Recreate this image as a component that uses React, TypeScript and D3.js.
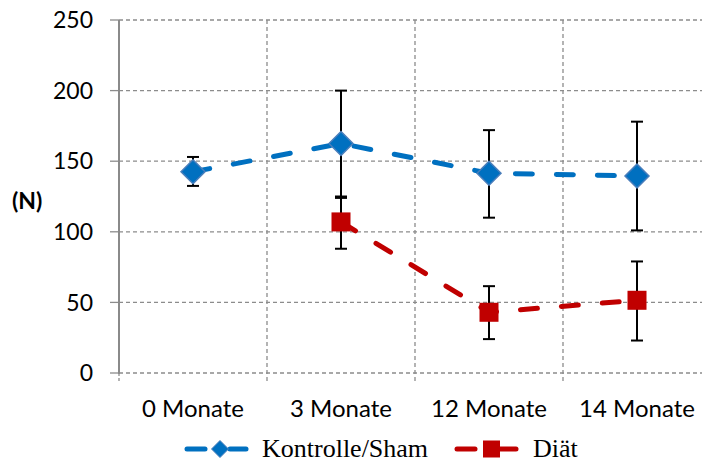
import React from "react";
import * as d3 from "d3";

const categories = ["0 Monate", "3 Monate", "12 Monate", "14 Monate"];
const kontrolleMean = [142.5, 162.5, 141.5, 139.5];
const kontrolleHigh = [153, 200, 172, 178];
const kontrolleLow = [132.5, 125, 110, 101];
const diaetCats = ["3 Monate", "12 Monate", "14 Monate"];
const diaetMean = [107, 43, 51.5];
const diaetHigh = [124, 61.5, 79];
const diaetLow = [88, 24, 23];
const yTicks = [0, 50, 100, 150, 200, 250];

const W = 702;
const H = 463;
const BLUE = "#0070C0";
const RED = "#C00000";
const GRID = "#8c8c8c";

export default function App() {
  const x = d3.scaleBand<string>().domain(categories).range([119, 711]).padding(0);
  const cx = (c: string) => (x(c) as number) + x.bandwidth() / 2;
  const y = d3.scaleLinear().domain([0, 250]).range([373, 20]);

  const line = d3
    .line<[number, number]>()
    .x((d) => d[0])
    .y((d) => d[1]);

  const kPts: [number, number][] = categories.map((c, i) => [cx(c), y(kontrolleMean[i])]);
  const dPts: [number, number][] = diaetCats.map((c, i) => [cx(c), y(diaetMean[i])]);

  const diamond = (px: number, py: number, r: number) =>
    `M${px},${py - r}L${px + r},${py}L${px},${py + r}L${px - r},${py}Z`;

  const boundaries = categories.map((c) => (x(c) as number) + x.bandwidth());
  const labelFont = "Lato, 'Open Sans', sans-serif";
  const serif = "'Liberation Serif', 'Times New Roman', serif";

  return (
    <svg
      width={W}
      height={H}
      style={{ position: "absolute", left: 0, top: 0, background: "#fff" }}
    >
      <rect x={0} y={0} width={W} height={H} fill="#fff" />
      {/* horizontal grid */}
      {yTicks.map((t) => (
        <g key={"h" + t}>
          <line x1={119} x2={711} y1={y(t)} y2={y(t)} stroke={GRID} strokeWidth={1.3} strokeDasharray="4,3" />
          <line x1={110} x2={119} y1={y(t)} y2={y(t)} stroke={GRID} strokeWidth={1.3} />
          <text
            x={93}
            y={y(t)}
            dy="0.36em"
            textAnchor="end"
            fontFamily={labelFont}
            fontSize={23}
            fill="#000"
          >
            {t}
          </text>
        </g>
      ))}
      {/* vertical grid */}
      {boundaries.map((b, i) => (
        <line key={"v" + i} x1={b} x2={b} y1={20} y2={381} stroke={GRID} strokeWidth={1.3} strokeDasharray="4,3" />
      ))}
      <line x1={119} x2={119} y1={373} y2={381} stroke={GRID} strokeWidth={1.3} strokeDasharray="3,2" />
      {/* y axis */}
      <line x1={119} x2={119} y1={20} y2={374} stroke="#8a8a8a" strokeWidth={2} />
      {/* y title */}
      <text x={12} y={209} fontFamily={labelFont} fontWeight="bold" fontSize={23} fill="#000">
        (N)
      </text>
      {/* x labels */}
      {categories.map((c) => (
        <text
          key={"xl" + c}
          x={cx(c)}
          y={417}
          textAnchor="middle"
          fontFamily={labelFont}
          fontSize={24}
          fill="#000"
        >
          {c}
        </text>
      ))}
      {/* lines */}
      <path
        d={line(dPts) || ""}
        fill="none"
        stroke={RED}
        strokeWidth={5}
        strokeDasharray="17,24"
        strokeLinecap="round"
      />
      <path
        d={line(kPts) || ""}
        fill="none"
        stroke={BLUE}
        strokeWidth={5}
        strokeDasharray="17,24"
        strokeLinecap="round"
      />
      {/* error bars */}
      {categories.map((c, i) => (
        <g key={"ek" + c} stroke="#000" strokeWidth={2}>
          <line x1={cx(c)} x2={cx(c)} y1={y(kontrolleHigh[i])} y2={y(kontrolleLow[i])} />
          <line x1={cx(c) - 6} x2={cx(c) + 6} y1={y(kontrolleHigh[i])} y2={y(kontrolleHigh[i])} />
          <line x1={cx(c) - 6} x2={cx(c) + 6} y1={y(kontrolleLow[i])} y2={y(kontrolleLow[i])} />
        </g>
      ))}
      {diaetCats.map((c, i) => (
        <g key={"ed" + c} stroke="#000" strokeWidth={2}>
          <line x1={cx(c)} x2={cx(c)} y1={y(diaetHigh[i])} y2={y(diaetLow[i])} />
          <line x1={cx(c) - 6} x2={cx(c) + 6} y1={y(diaetHigh[i])} y2={y(diaetHigh[i])} />
          <line x1={cx(c) - 6} x2={cx(c) + 6} y1={y(diaetLow[i])} y2={y(diaetLow[i])} />
        </g>
      ))}
      {/* markers */}
      {dPts.map((p, i) => (
        <rect key={"dm" + i} x={p[0] - 9.5} y={p[1] - 9.5} width={19} height={19} fill={RED} />
      ))}
      {kPts.map((p, i) => (
        <path key={"km" + i} d={diamond(p[0], p[1], 12)} fill={BLUE} stroke="#4a7ebb" strokeWidth={1.5} />
      ))}
      {/* legend */}
      <g>
        <line x1={187} x2={205} y1={449} y2={449} stroke={BLUE} strokeWidth={5} strokeLinecap="round" />
        <line x1={230} x2={246} y1={449} y2={449} stroke={BLUE} strokeWidth={5} strokeLinecap="round" />
        <path d={diamond(220, 449, 8.5)} fill={BLUE} stroke="#4a7ebb" strokeWidth={1} />
        <text x={262} y={457} fontFamily={serif} fontSize={26} fill="#000">
          Kontrolle/Sham
        </text>
        <line x1={457} x2={475} y1={449} y2={449} stroke={RED} strokeWidth={5} strokeLinecap="round" />
        <line x1={500} x2={516} y1={449} y2={449} stroke={RED} strokeWidth={5} strokeLinecap="round" />
        <rect x={483} y={440.5} width={17} height={17} fill={RED} />
        <text x={533} y={457} fontFamily={serif} fontSize={26} fill="#000">
          Diät
        </text>
      </g>
    </svg>
  );
}
